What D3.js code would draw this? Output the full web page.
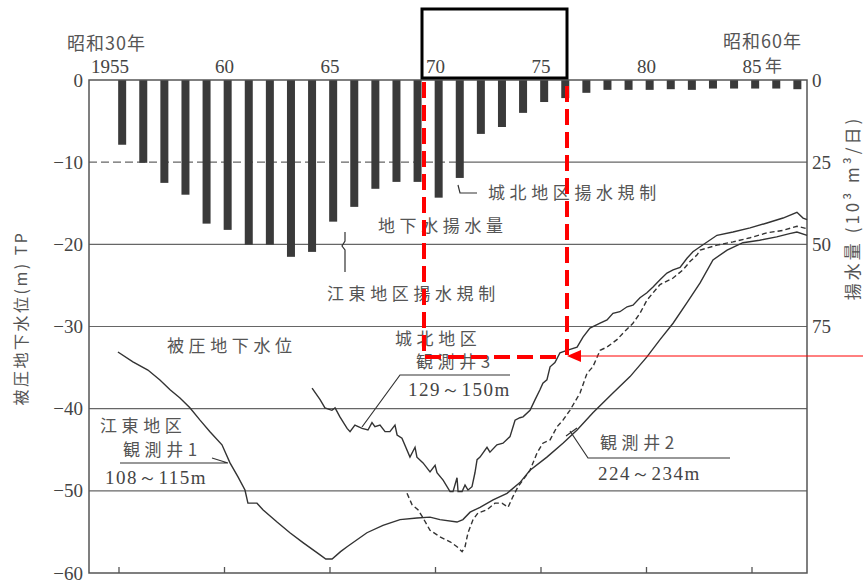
<!DOCTYPE html>
<html>
<head>
<meta charset="utf-8">
<script src="https://cdn.jsdelivr.net/npm/d3@7"></script>
<style>
  body { margin: 0; background: #fff; }
  svg { display: block; }
  .num { font-family: "Liberation Serif", "DejaVu Serif", serif; fill: #444; }
  .jp { font-family: "Noto Sans CJK JP", sans-serif; fill: #555; }
</style>
</head>
<body>
<div id="chart"></div>
<script>
////////////////////////////////////////////////////////////////////////
// Data

// pumping volume (10^3 m3/day), one bar per year
let pumpYears = d3.range(1955, 1988);
let pumpValues = [19.7, 25.2, 31.3, 34.9, 43.7, 45.6, 50.1, 50.1, 53.8, 52.3,
  43.1, 38.6, 33.1, 31.0, 31.0, 35.8, 29.8, 16.4, 14.3, 10.0,
  6.7, 5.5, 3.9, 3.0, 3.0, 3.0, 2.8, 3.0, 2.6, 2.6, 2.6, 2.6, 2.8];

// 江東地区 観測井1 (year, level m TP)
let well1 = [[1954.95,-33.1],[1955.66,-34.3],[1956.37,-35.3],[1956.94,-36.5],[1957.42,-37.7],
  [1957.89,-38.7],[1958.36,-39.9],[1958.84,-41.4],[1959.31,-42.8],[1959.88,-44.4],
  [1960.26,-46.6],[1960.64,-48.3],[1960.97,-49.9],[1961.11,-51.5],[1961.54,-51.5],
  [1961.82,-52.3],[1962.49,-53.8],[1963.10,-55.1],[1963.72,-56.3],[1964.53,-57.8],
  [1964.80,-58.3],[1965.10,-58.3],[1965.50,-57.4],[1965.81,-56.8],[1966.75,-55.1],
  [1967.51,-54.2],[1968.32,-53.5],[1969.12,-53.3],[1969.74,-53.2],[1970.21,-53.5],
  [1971.02,-53.8],[1971.30,-53.5],[1971.64,-52.6],[1972.11,-52.0],[1972.73,-51.1],
  [1973.39,-50.3],[1974.00,-49.0],[1974.48,-47.5],[1975.28,-45.9],[1976.04,-44.2],
  [1976.71,-42.6],[1977.46,-40.5],[1978.41,-38.1],[1979.22,-36.1],[1980.02,-33.7],
  [1980.64,-31.6],[1981.26,-29.6],[1981.92,-27.1],[1982.54,-24.7],[1983.15,-21.9],
  [1983.82,-20.7],[1984.57,-19.8],[1985.36,-19.5],[1986.17,-19.1],[1986.78,-18.7],
  [1987.13,-18.5],[1987.61,-18.9]];

// 観測井2 224~234m (dashed)
let well2 = [[1968.65,-50.3],[1968.89,-51.7],[1969.17,-52.3],[1969.41,-53.3],[1969.74,-54.8],
  [1970.21,-55.6],[1970.69,-56.2],[1971.02,-56.8],[1971.26,-57.4],[1971.40,-56.8],
  [1971.54,-55.1],[1971.78,-53.5],[1972.01,-52.7],[1972.44,-52.3],[1972.82,-51.5],
  [1973.15,-51.5],[1973.44,-52.0],[1973.67,-50.7],[1973.91,-49.5],[1974.48,-47.5],
  [1974.81,-45.4],[1975.09,-44.2],[1975.43,-43.8],[1975.76,-42.2],[1976.04,-41.4],
  [1976.37,-40.2],[1976.85,-38.1],[1977.18,-35.7],[1977.46,-34.9],[1977.80,-32.9],
  [1978.13,-32.5],[1978.60,-31.6],[1978.89,-30.8],[1979.36,-29.6],[1979.69,-28.4],
  [1980.02,-26.8],[1980.31,-25.9],[1980.64,-24.9],[1981.26,-24.1],[1981.73,-23.1],
  [1982.06,-22.1],[1982.39,-21.3],[1982.54,-20.7],[1983.34,-20.1],[1984.10,-19.7],
  [1984.91,-19.2],[1985.71,-18.6],[1986.47,-18.3],[1987.13,-17.8],[1987.61,-18.1]];

// 城北地区 観測井3 129~150m
let well3 = [[1964.15,-37.5],[1964.53,-38.9],[1964.76,-39.9],[1965.09,-40.2],[1965.24,-39.9],
  [1965.47,-41.0],[1965.81,-42.4],[1965.95,-42.8],[1966.18,-42.0],[1966.52,-42.4],
  [1966.80,-42.6],[1966.99,-41.7],[1967.13,-42.2],[1967.37,-42.0],[1967.61,-42.8],
  [1967.84,-42.8],[1968.08,-42.0],[1968.18,-43.2],[1968.41,-43.6],[1968.79,-45.9],
  [1969.03,-44.7],[1969.12,-45.9],[1969.41,-46.6],[1969.74,-47.7],[1969.98,-46.9],
  [1970.07,-47.8],[1970.36,-48.7],[1970.69,-50.1],[1970.83,-50.1],[1971.02,-48.4],
  [1971.07,-50.1],[1971.26,-50.1],[1971.40,-49.3],[1971.54,-49.9],[1971.73,-49.5],
  [1971.87,-47.8],[1971.97,-46.2],[1972.11,-45.9],[1972.44,-44.7],[1972.58,-45.3],
  [1972.91,-44.4],[1973.20,-44.2],[1973.53,-43.4],[1973.77,-41.4],[1974.00,-41.1],
  [1974.15,-41.0],[1974.48,-40.2],[1974.72,-38.9],[1974.95,-37.7],[1975.09,-36.9],
  [1975.28,-36.5],[1975.43,-34.9],[1975.66,-34.4],[1975.90,-33.2],[1976.23,-32.9],
  [1976.71,-32.5],[1976.99,-31.3],[1977.32,-30.2],[1977.80,-29.6],[1978.13,-29.2],
  [1978.41,-28.4],[1978.74,-28.2],[1979.08,-27.6],[1979.36,-27.4],[1979.69,-26.5],
  [1980.02,-25.9],[1980.31,-25.2],[1980.64,-24.3],[1980.97,-23.5],[1981.26,-23.1],
  [1981.59,-22.8],[1981.92,-21.7],[1982.20,-20.9],[1982.54,-20.3],[1983.34,-18.9],
  [1984.10,-18.5],[1984.91,-18.0],[1985.71,-17.4],[1986.47,-16.8],[1987.13,-16.1],
  [1987.42,-16.8],[1987.61,-17.0]];

// axis ticks and labels
let yearTicks = [1955, 1960, 1965, 1970, 1975, 1980, 1985];
let yearLabels = ["1955", "60", "65", "70", "75", "80", "85"];
let levelTicks = [0, -10, -20, -30, -40, -50, -60];
let pumpTicks = [0, 25, 50, 75];

////////////////////////////////////////////////////////////////////////
// Canvas and scales
let width = 863;
let height = 586;
let frame = { left: 89, right: 807, top: 80, bottom: 573 };

let svg = d3.select("#chart")
  .append("svg")
  .attr("width", width).attr("height", height);

let x = d3.scaleLinear().domain([1955, 1985]).range([119, 752]);
let y = d3.scaleLinear().domain([0, -60]).range([frame.top, frame.bottom]);
let yPump = d3.scaleLinear().domain([0, 150]).range([frame.top, frame.bottom]);

let gridColor = "#666";
let ink = "#333";

////////////////////////////////////////////////////////////////////////
// Grid lines
svg.append("g")
  .selectAll("line")
  .data(levelTicks.filter(d => d < -10 && d > -60))
  .enter()
  .append("line")
  .attr("x1", frame.left).attr("x2", frame.right)
  .attr("y1", d => y(d)).attr("y2", d => y(d))
  .attr("stroke", gridColor).attr("stroke-width", 1.2);

// the -10 line is dashed behind the bars, solid after 1971
svg.append("line")
  .attr("x1", frame.left).attr("x2", x(1971.2))
  .attr("y1", y(-10)).attr("y2", y(-10))
  .attr("stroke", gridColor).attr("stroke-width", 1.2)
  .attr("stroke-dasharray", "8,4");
svg.append("line")
  .attr("x1", x(1971.2)).attr("x2", frame.right)
  .attr("y1", y(-10)).attr("y2", y(-10))
  .attr("stroke", gridColor).attr("stroke-width", 1.2);

////////////////////////////////////////////////////////////////////////
// Pumping bars
svg.append("g")
  .selectAll("rect")
  .data(pumpYears)
  .enter()
  .append("rect")
  .attr("x", (d) => x(d + 0.15) - 4)
  .attr("width", 8)
  .attr("y", yPump(0))
  .attr("height", (d, i) => yPump(pumpValues[i]) - yPump(0))
  .attr("fill", "#3a3a3a");

////////////////////////////////////////////////////////////////////////
// Frame and ticks
svg.append("rect")
  .attr("x", frame.left).attr("y", frame.top)
  .attr("width", frame.right - frame.left)
  .attr("height", frame.bottom - frame.top)
  .attr("fill", "none").attr("stroke", "#555").attr("stroke-width", 1.5);

svg.append("g")
  .selectAll("line")
  .data(yearTicks)
  .enter()
  .append("line")
  .attr("x1", d => x(d)).attr("x2", d => x(d))
  .attr("y1", frame.bottom).attr("y2", frame.bottom - 6)
  .attr("stroke", "#555").attr("stroke-width", 1.3);

svg.append("g")
  .selectAll("text")
  .data(levelTicks)
  .enter()
  .append("text")
  .attr("class", "num")
  .attr("x", frame.left - 6)
  .attr("y", d => y(d))
  .attr("dy", "0.35em")
  .attr("text-anchor", "end")
  .attr("font-size", 19)
  .text(d => d == 0 ? "0" : "\u2212" + Math.abs(d));

svg.append("g")
  .selectAll("text")
  .data(pumpTicks)
  .enter()
  .append("text")
  .attr("class", "num")
  .attr("x", frame.right + 5)
  .attr("y", d => yPump(d))
  .attr("dy", "0.35em")
  .attr("font-size", 19)
  .text(d => d);

svg.append("g")
  .selectAll("text")
  .data(yearTicks)
  .enter()
  .append("text")
  .attr("class", "num")
  .attr("x", (d, i) => x(d) + (i == 0 ? -9 : 0))
  .attr("y", 73)
  .attr("text-anchor", "middle")
  .attr("font-size", 19)
  .text((d, i) => yearLabels[i]);

svg.append("text").attr("class", "jp")
  .attr("x", x(1985) + 13).attr("y", 72)
  .attr("font-size", 17).text("年");
svg.append("text").attr("class", "jp")
  .attr("x", 67).attr("y", 50)
  .attr("font-size", 18).attr("letter-spacing", 1).text("昭和30年");
svg.append("text").attr("class", "jp")
  .attr("x", 723).attr("y", 48)
  .attr("font-size", 18).attr("letter-spacing", 1).text("昭和60年");

// axis titles
svg.append("text").attr("class", "jp")
  .attr("transform", "translate(27,318) rotate(-90)")
  .attr("text-anchor", "middle")
  .attr("font-size", 16).attr("letter-spacing", 2.5)
  .text("被圧地下水位(m) TP");
svg.append("text").attr("class", "jp")
  .attr("transform", "translate(859,208) rotate(-90)")
  .attr("text-anchor", "middle")
  .attr("font-size", 17).attr("letter-spacing", 3)
  .text("揚水量 (10³ m³/日)");

////////////////////////////////////////////////////////////////////////
// Groundwater level lines
let line = d3.line().x(d => x(d[0])).y(d => y(d[1]));

svg.append("path").datum(well1).attr("d", line)
  .attr("fill", "none").attr("stroke", ink).attr("stroke-width", 1.4);
svg.append("path").datum(well3).attr("d", line)
  .attr("fill", "none").attr("stroke", ink).attr("stroke-width", 1.4);
svg.append("path").datum(well2).attr("d", line)
  .attr("fill", "none").attr("stroke", ink).attr("stroke-width", 1.4)
  .attr("stroke-dasharray", "5,3");

////////////////////////////////////////////////////////////////////////
// Annotations
let labels = [
  ["地下水揚水量", 378, 232],
  ["城北地区揚水規制", 488, 199],
  ["江東地区揚水規制", 327, 300],
  ["被圧地下水位", 167, 352],
  ["城北地区", 395, 345],
  ["観測井3", 416, 368],
  ["江東地区", 100, 432],
  ["観測井1", 123, 456],
  ["観測井2", 600, 449]
];
svg.append("g")
  .selectAll("text")
  .data(labels)
  .enter()
  .append("text")
  .attr("class", "jp")
  .attr("x", d => d[1]).attr("y", d => d[2])
  .attr("font-size", 17).attr("letter-spacing", 4.6)
  .text(d => d[0]);

let depths = [["129～150m", 408, 396], ["108～115m", 105, 484], ["224～234m", 598, 480]];
svg.append("g")
  .selectAll("text")
  .data(depths)
  .enter()
  .append("text")
  .attr("class", "num")
  .attr("x", d => d[1]).attr("y", d => d[2])
  .attr("font-size", 19).attr("letter-spacing", 1.5)
  .text(d => d[0]);

// leaders and regulation markers
let leaders = [
  "M120,463 L228,463 M212,458 L228,463",
  "M510,375 L400,375 L362,427",
  "M730,458 L588,458 L570,431 M566,436 L577,428",
  "M345,232 L345,241 L342,246 L345,250 L345,272",
  "M458,185 L460,193 L477,193"
];
svg.append("g")
  .selectAll("path")
  .data(leaders)
  .enter()
  .append("path")
  .attr("d", d => d)
  .attr("fill", "none").attr("stroke", ink).attr("stroke-width", 1.2);

////////////////////////////////////////////////////////////////////////
// Overlay added on the scan: black box and red dashed guide
svg.append("rect")
  .attr("x", 422).attr("y", 9).attr("width", 145).attr("height", 69)
  .attr("fill", "none").attr("stroke", "#000").attr("stroke-width", 3);

svg.append("path")
  .attr("d", "M424,82 L424,357 L556,357 M567,86 L567,357")
  .attr("fill", "none").attr("stroke", "#f00").attr("stroke-width", 4)
  .attr("stroke-dasharray", "16,7");

svg.append("line")
  .attr("x1", 863).attr("x2", 578).attr("y1", 356).attr("y2", 356)
  .attr("stroke", "#f00").attr("stroke-width", 1);
svg.append("path")
  .attr("d", "M567,356 L581,350 L581,362 Z")
  .attr("fill", "#f00");
</script>
</body>
</html>
